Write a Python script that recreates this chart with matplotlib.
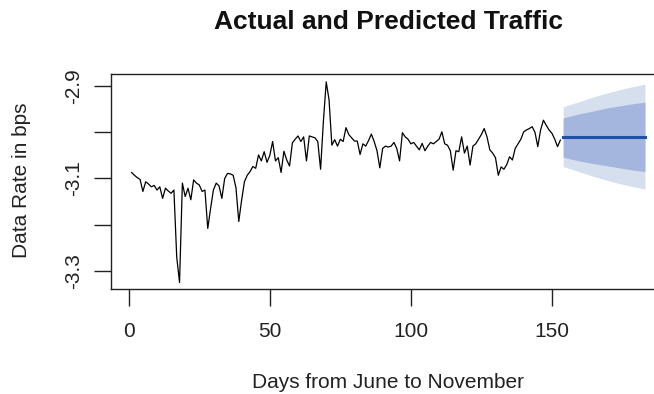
import matplotlib.pyplot as plt
import numpy as np

plt.rcParams['font.family'] = ['Liberation Sans', 'DejaVu Sans']

# observed daily data rate (days 1..153)
actual = [
    -3.087, -3.093, -3.098, -3.102, -3.128, -3.107, -3.112, -3.118, -3.115, -3.125,
    -3.118, -3.143, -3.121, -3.127, -3.132, -3.125, -3.270, -3.325, -3.110, -3.139,
    -3.121, -3.146, -3.103, -3.110, -3.114, -3.128, -3.125, -3.208, -3.165, -3.125,
    -3.110, -3.116, -3.143, -3.100, -3.089, -3.090, -3.093, -3.120, -3.193, -3.147,
    -3.107, -3.093, -3.085, -3.074, -3.078, -3.049, -3.062, -3.042, -3.065, -3.050,
    -3.020, -3.062, -3.055, -3.087, -3.041, -3.060, -3.073, -3.023, -3.015, -3.008,
    -3.020, -3.010, -3.062, -3.008, -3.010, -3.012, -3.020, -3.080, -2.976, -2.891,
    -2.930, -3.028, -3.016, -3.030, -3.015, -3.020, -2.990, -3.005, -3.012, -3.019,
    -3.019, -3.048, -3.025, -3.030, -3.018, -3.004, -3.020, -3.040, -3.077, -3.035,
    -3.030, -3.032, -3.030, -3.022, -3.035, -3.062, -3.001, -3.010, -3.015, -3.025,
    -3.022, -3.030, -3.038, -3.024, -3.040, -3.030, -3.022, -3.025, -3.020, -3.015,
    -2.999, -3.025, -3.028, -3.040, -3.082, -3.040, -3.042, -3.010, -3.045, -3.030,
    -3.071, -3.030, -3.025, -3.015, -3.005, -2.992, -3.010, -3.038, -3.045, -3.055,
    -3.093, -3.075, -3.080, -3.070, -3.053, -3.060, -3.035, -3.025, -3.015, -2.999,
    -2.995, -2.992, -2.988, -3.000, -3.031, -2.995, -2.974, -2.985, -2.995, -3.002,
    -3.015, -3.031, -3.017,
]
days = np.arange(1, len(actual) + 1)

# forecast (days 154..183), read at a few horizons
fc_days = [154, 159, 164, 169, 174, 179, 183]
fc_mean = [-3.010, -3.010, -3.010, -3.010, -3.010, -3.010, -3.010]
lo80 = [-3.054, -3.061, -3.067, -3.072, -3.077, -3.082, -3.085]
hi80 = [-2.969, -2.961, -2.955, -2.948, -2.943, -2.938, -2.935]
lo95 = [-3.074, -3.084, -3.094, -3.103, -3.111, -3.118, -3.123]
hi95 = [-2.945, -2.935, -2.925, -2.916, -2.908, -2.901, -2.896]

fig = plt.figure(figsize=(6.54, 3.94), dpi=100)
ax = fig.add_axes([111 / 654, 1 - 289 / 394, 1 - 111 / 654, (289 - 74) / 394])

ax.fill_between(fc_days, lo95, hi95, color='#d5dfee', lw=0)
ax.fill_between(fc_days, lo80, hi80, color='#a4b5de', lw=0)
ax.plot(fc_days, fc_mean, color='#1f4fa6', lw=2.2)
ax.plot(days, actual, color='black', lw=0.9)

ax.set_xlim(-6.3, 186.2)
ax.set_ylim(-3.339, -2.874)
ax.set_xticks([0, 50, 100, 150])
ax.set_yticks([-3.3, -3.2, -3.1, -3.0, -2.9])
ax.set_yticklabels(['-3.3', '', '-3.1', '', '-2.9'], rotation=90, va='center')
ax.tick_params(axis='both', direction='out', length=12, width=1, labelsize=15,
               colors='#222222')
ax.tick_params(axis='x', pad=12)
ax.tick_params(axis='y', pad=8)
ax.spines['right'].set_visible(False)
for s in ['left', 'top', 'bottom']:
    ax.spines[s].set_linewidth(1.0)
    ax.spines[s].set_color('#222222')

fig.text(388 / 654, 1 - 22 / 394, 'Actual and Predicted Traffic', ha='center',
         va='center', fontsize=19, fontweight='bold', color='#111111')
fig.text(388 / 654, 1 - 382 / 394, 'Days from June to November', ha='center',
         va='center', fontsize=15, color='#222222')
fig.text(22 / 654, 1 - 180 / 394, 'Data Rate in bps', ha='center', va='center',
         rotation=90, fontsize=15, color='#222222')

fig.savefig('out.png', dpi=100)
